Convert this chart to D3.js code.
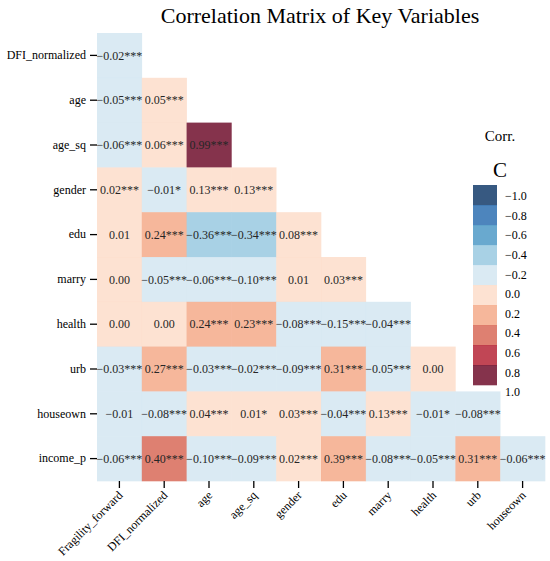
<!DOCTYPE html>
<html>
<head>
<meta charset="utf-8">
<script src="https://cdn.jsdelivr.net/npm/d3@7"></script>
<style>
  html, body { margin: 0; padding: 0; background: #fff; }
  svg text { font-family: "Liberation Serif", "Times New Roman", serif !important; }
</style>
</head>
<body>
<svg id="chart" width="550" height="561"></svg>
<script>
// ---- data ----
const rowVars = ["DFI_normalized", "age", "age_sq", "gender", "edu", "marry", "health", "urb", "houseown", "income_p"];
const colVars = ["Fragility_forward", "DFI_normalized", "age", "age_sq", "gender", "edu", "marry", "health", "urb", "houseown"];

const corrValues = [
  [-0.02],
  [-0.05, 0.05],
  [-0.06, 0.06, 0.99],
  [0.02, -0.01, 0.13, 0.13],
  [0.01, 0.24, -0.36, -0.34, 0.08],
  [0.00, -0.05, -0.06, -0.10, 0.01, 0.03],
  [0.00, 0.00, 0.24, 0.23, -0.08, -0.15, -0.04],
  [-0.03, 0.27, -0.03, -0.02, -0.09, 0.31, -0.05, 0.00],
  [-0.01, -0.08, 0.04, 0.01, 0.03, -0.04, 0.13, -0.01, -0.08],
  [-0.06, 0.40, -0.10, -0.09, 0.02, 0.39, -0.08, -0.05, 0.31, -0.06]
];
const corrStars = [
  ["***"],
  ["***", "***"],
  ["***", "***", "***"],
  ["***", "*", "***", "***"],
  ["", "***", "***", "***", "***"],
  ["", "***", "***", "***", "", "***"],
  ["", "", "***", "***", "***", "***", "***"],
  ["***", "***", "***", "***", "***", "***", "***", ""],
  ["", "***", "***", "*", "***", "***", "***", "*", "***"],
  ["***", "***", "***", "***", "***", "***", "***", "***", "***", "***"]
];

const binEdges = [-0.8, -0.6, -0.4, -0.2, 0.0, 0.2, 0.4, 0.6, 0.8];
const binColors = ["#053061", "#2166ac", "#4393c3", "#92c5de", "#d1e5f0",
                   "#fddbc7", "#f4a582", "#d6604d", "#b2182b", "#67001f"];
const cbarTicks = [-1.0, -0.8, -0.6, -0.4, -0.2, 0.0, 0.2, 0.4, 0.6, 0.8, 1.0];

const titleText = "Correlation Matrix of Key Variables";

// ---- layout ----
const svg = d3.select("#chart");
const grid = { left: 97, top: 33, right: 545, bottom: 481 };

const x = d3.scaleBand().domain(colVars).range([grid.left, grid.right]);
const y = d3.scaleBand().domain(rowVars).range([grid.top, grid.bottom]);
const color = d3.scaleThreshold().domain(binEdges).range(binColors);
const fmt = d3.format(".2f");

const cells = [];
corrValues.forEach((row, i) => {
  row.forEach((v, j) => {
    cells.push({ r: rowVars[i], c: colVars[j], v: v, s: corrStars[i][j] });
  });
});

svg.append("text")
  .attr("x", 320).attr("y", 23)
  .attr("text-anchor", "middle")
  .attr("font-size", 22)
  .attr("fill", "#000")
  .text(titleText);

const gCells = svg.append("g");
gCells.selectAll("rect").data(cells).join("rect")
  .attr("x", d => x(d.c))
  .attr("y", d => y(d.r))
  .attr("width", x.bandwidth() + 0.3)
  .attr("height", y.bandwidth() + 0.3)
  .attr("fill", d => color(d.v))
  .attr("fill-opacity", 0.8);

gCells.selectAll("text").data(cells).join("text")
  .attr("x", d => x(d.c) + x.bandwidth() / 2)
  .attr("y", d => y(d.r) + y.bandwidth() / 2)
  .attr("dy", "0.35em")
  .attr("text-anchor", "middle")
  .attr("font-size", 12)
  .attr("fill", "#262626")
  .text(d => fmt(d.v) + d.s);

// axes
const yAxis = svg.append("g")
  .attr("transform", `translate(${grid.left},0)`)
  .call(d3.axisLeft(y).tickSize(7).tickPadding(4));
yAxis.select(".domain").remove();
yAxis.selectAll(".tick line").attr("stroke", "#000").attr("stroke-width", 1.3);
yAxis.selectAll(".tick text")
  .attr("font-size", 12).attr("fill", "#000");

const xAxis = svg.append("g")
  .attr("transform", `translate(0,${grid.bottom})`)
  .call(d3.axisBottom(x).tickSize(7).tickPadding(4));
xAxis.select(".domain").remove();
xAxis.selectAll(".tick line").attr("stroke", "#000").attr("stroke-width", 1.3);
xAxis.selectAll(".tick text")
  .attr("font-size", 12).attr("fill", "#000")
  .attr("text-anchor", "end")
  .attr("dy", null)
  .attr("y", 0)
  .attr("transform", "translate(4,15) rotate(-45)");

// colorbar
const cbar = { left: 473, width: 24, top: 185, bottom: 385 };
const cbY = d3.scaleBand().domain(d3.range(binColors.length)).range([cbar.top, cbar.bottom]);
svg.append("g").selectAll("rect").data(binColors).join("rect")
  .attr("x", cbar.left)
  .attr("y", (d, i) => cbY(i))
  .attr("width", cbar.width)
  .attr("height", cbY.bandwidth() + 0.3)
  .attr("fill", d => d)
  .attr("fill-opacity", 0.8);

const cbLab = d3.scaleLinear().domain([-1, 1]).range([196, 392]);
const cbFmt = d3.format(".1f");
svg.append("g").selectAll("text").data(cbarTicks).join("text")
  .attr("x", 505)
  .attr("y", d => cbLab(d))
  .attr("dy", "0.35em")
  .attr("font-size", 12)
  .attr("fill", "#000")
  .text(d => cbFmt(d));

svg.append("text")
  .attr("x", 500).attr("y", 141)
  .attr("text-anchor", "middle")
  .attr("font-size", 15)
  .text("Corr.");
svg.append("text")
  .attr("x", 500).attr("y", 177)
  .attr("text-anchor", "middle")
  .attr("font-size", 21)
  .text("C");
</script>
</body>
</html>
